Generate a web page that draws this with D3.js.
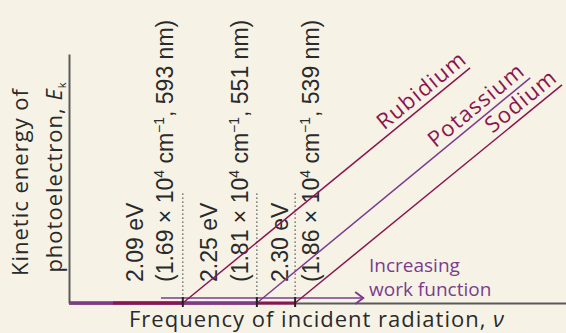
<!DOCTYPE html>
<html lang="en">
<head>
<meta charset="utf-8">
<title>Photoelectric effect</title>
<script src="https://d3js.org/d3.v7.min.js"></script>
<style>
  body { margin: 0; background: #f6f3e6; }
  svg { display: block; }
  .lbl { font-family: "Liberation Sans", Arial, sans-serif; font-size: 23px; fill: #2a2a2a; }
  .title { font-family: "Open Sans", sans-serif; fill: #2a2a2a; }
</style>
</head>
<body>
<div id="chart"></div>
<script>
// metals, in drawing order front to back is reversed below
const metals = ["Rubidium", "Potassium", "Sodium"];
const workFn = ["2.09 eV", "2.25 eV", "2.30 eV"];
const wavenum = ["1.69", "1.81", "1.86"];   // x 10^4 cm^-1
const wavelen = ["593", "551", "539"];      // nm
// schematic frequency axis (0..10), energy axis (0..5)
const threshold = [2.29, 3.78, 4.55];
const lineEndX = [8.07, 9.28, 9.92];
const lineEndY = [4.72, 4.52, 4.38];
const baseStart = [0.885, 0, 0];
const labelAt = [6.42, 7.45, 8.6];
const dottedTop = 2.2;
const arrowFrom = 1.85, arrowTo = 5.92, arrowY = 0.1;

const crimson = "#8b1550", purple = "#7b3c8e";
const lineColor = [crimson, purple, crimson];

const W = 566, H = 333;
const svg = d3.select("#chart").append("svg")
    .attr("width", W).attr("height", H);

const x = d3.scaleLinear().domain([0, 10]).range([69, 566]);
const y = d3.scaleLinear().domain([0, 5]).range([303, 54]);

// axes, no ticks
svg.append("g")
    .attr("transform", "translate(0," + y(0) + ")")
    .call(d3.axisBottom(x).tickValues([]).tickSizeOuter(0))
    .select(".domain").attr("stroke", "#5a5a5a").attr("stroke-width", 2);
svg.append("g")
    .attr("transform", "translate(" + x(0) + ",0)")
    .call(d3.axisLeft(y).tickValues([]).tickSizeOuter(0))
    .select(".domain").attr("stroke", "#5a5a5a").attr("stroke-width", 2);

// dotted threshold guides
svg.selectAll(".guide").data(threshold).enter().append("line")
    .attr("x1", d => x(d)).attr("x2", d => x(d))
    .attr("y1", y(dottedTop)).attr("y2", y(0))
    .attr("stroke", "#333").attr("stroke-width", 1.2)
    .attr("stroke-dasharray", "1.2,2.8");

// rotated threshold labels
const offs = [[-40, -10], [-40, -9], [-7, 24]];
workFn.forEach(function(t, i) {
  const x0 = x(threshold[i]);
  svg.append("text").attr("class", "lbl")
      .attr("transform", "translate(" + (x0 + offs[i][0]) + ",282) rotate(-90)")
      .text(t);
  const t2 = svg.append("text").attr("class", "lbl")
      .attr("transform", "translate(" + (x0 + offs[i][1]) + ",282) rotate(-90)");
  t2.append("tspan").text("(" + wavenum[i] + " \u00d7 10");
  t2.append("tspan").attr("dy", -9).attr("font-size", 14).text("4");
  t2.append("tspan").attr("dy", 9).text(" cm");
  t2.append("tspan").attr("dy", -9).attr("font-size", 14).text("\u22121");
  t2.append("tspan").attr("dy", 9).text(", " + wavelen[i] + " nm)");
});

// zero kinetic energy segments along the axis (back to front)
const idx = [2, 1, 0];
idx.forEach(function(i) {
  svg.append("line")
      .attr("x1", x(baseStart[i])).attr("x2", x(threshold[i]))
      .attr("y1", y(0)).attr("y2", y(0))
      .attr("stroke", lineColor[i]).attr("stroke-width", 3);
});

// increasing work function arrow
svg.append("line")
    .attr("x1", x(arrowFrom)).attr("x2", x(arrowTo))
    .attr("y1", y(arrowY)).attr("y2", y(arrowY))
    .attr("stroke", purple).attr("stroke-width", 1.6);
svg.append("path")
    .attr("d", "M" + (x(arrowTo) - 8) + "," + (y(arrowY) - 6) + " L" + x(arrowTo) + "," + y(arrowY) +
               " L" + (x(arrowTo) - 8) + "," + (y(arrowY) + 6))
    .attr("fill", "none").attr("stroke", purple).attr("stroke-width", 2);
svg.append("text").attr("class", "title")
    .attr("x", 369).attr("y", 272).attr("font-size", 19)
    .style("fill", purple).text("Increasing");
svg.append("text").attr("class", "title")
    .attr("x", 369).attr("y", 296).attr("font-size", 19)
    .style("fill", purple).text("work function");

// kinetic energy lines
metals.forEach(function(m, i) {
  svg.append("line")
      .attr("x1", x(threshold[i])).attr("y1", y(0))
      .attr("x2", x(lineEndX[i])).attr("y2", y(lineEndY[i]))
      .attr("stroke", lineColor[i]).attr("stroke-width", 1.5);
});

// threshold ticks
svg.selectAll(".tk").data(threshold).enter().append("line")
    .attr("x1", d => x(d)).attr("x2", d => x(d))
    .attr("y1", y(0) - 6).attr("y2", y(0) + 4)
    .attr("stroke", "#222").attr("stroke-width", 2);

// metal labels along the lines
metals.forEach(function(m, i) {
  const slope = (lineEndY[i] - 0) / (lineEndX[i] - threshold[i]);
  const px = x(labelAt[i]);
  const py = y(slope * (labelAt[i] - threshold[i]));
  const ang = Math.atan2(y(lineEndY[i]) - y(0), x(lineEndX[i]) - x(threshold[i])) * 180 / Math.PI;
  svg.append("text").attr("class", "title")
      .attr("transform", "translate(" + px + "," + py + ") rotate(" + ang + ")")
      .attr("dy", -6).attr("font-size", 22).attr("letter-spacing", 1.2)
      .style("fill", crimson).text(m);
});

// axis titles
const yt = svg.append("g").attr("class", "title").attr("font-size", 22)
    .attr("letter-spacing", 1);
yt.append("text").attr("transform", "translate(28,182) rotate(-90)")
    .attr("text-anchor", "middle").text("Kinetic energy of");
const y2 = yt.append("text").attr("transform", "translate(62,177) rotate(-90)")
    .attr("text-anchor", "middle");
y2.append("tspan").text("photoelectron, ");
y2.append("tspan").attr("font-style", "italic").text("E");
y2.append("tspan").attr("dy", 4).attr("font-size", 11).text("k");

const xt = svg.append("text").attr("class", "title").attr("font-size", 22)
    .attr("letter-spacing", 1)
    .attr("x", 129).attr("y", 327);
xt.append("tspan").text("Frequency of incident radiation, ");
xt.append("tspan").attr("font-style", "italic").text("\u03bd");
</script>
</body>
</html>
